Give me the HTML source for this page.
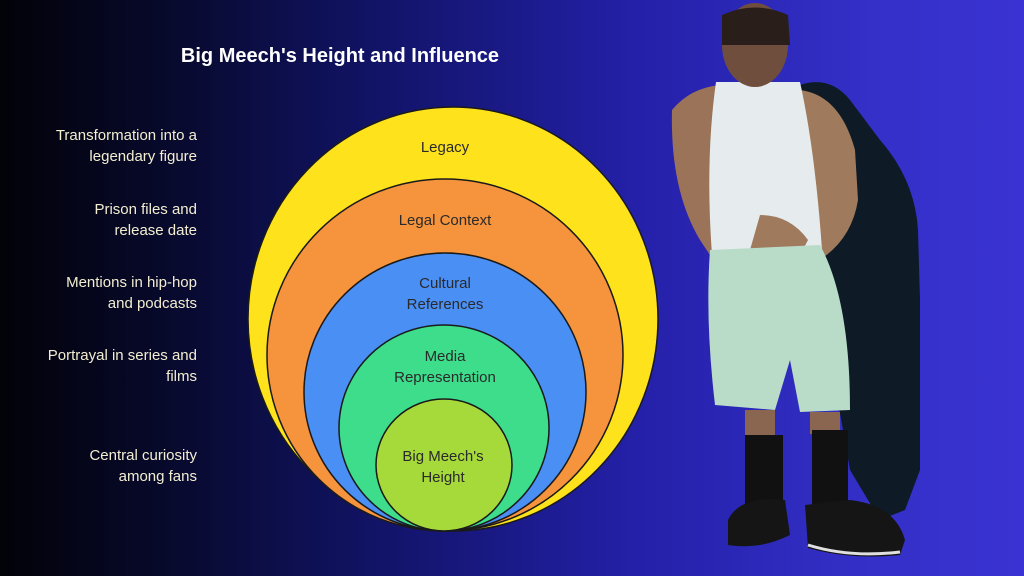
<!DOCTYPE html>
<html><head><style>
html,body{margin:0;padding:0}
body{width:1024px;height:576px;overflow:hidden;position:relative;font-family:"Liberation Sans",sans-serif;
background:linear-gradient(90deg,#020208 0%,#080a30 18%,#12146a 38%,#2420a8 62%,#3430c8 85%,#3a32d2 100%);}
.t{position:absolute;left:0;width:180px;margin-left:17px;text-align:right;color:#f3eed2;font-size:15px;line-height:21px}
.title{position:absolute;left:160px;width:360px;top:45px;text-align:center;color:#fff;font-weight:bold;font-size:20px}
svg{position:absolute;left:0;top:0}
</style></head><body>
<div class="title">Big Meech's Height and Influence</div>
<div class="t" style="top:125px">Transformation into a<br>legendary figure</div>
<div class="t" style="top:199px">Prison files and<br>release date</div>
<div class="t" style="top:272px">Mentions in hip-hop<br>and podcasts</div>
<div class="t" style="top:345px">Portrayal in series and<br>films</div>
<div class="t" style="top:445px">Central curiosity<br>among fans</div>
<svg width="1024" height="576" viewBox="0 0 1024 576">
<g stroke="#1a1a1a" stroke-width="1.5">
<ellipse cx="453" cy="319" rx="205" ry="212" fill="#fde21c"/>
<ellipse cx="445" cy="355" rx="178" ry="176" fill="#f5943c"/>
<ellipse cx="445" cy="392" rx="141" ry="139" fill="#4a8ff4"/>
<ellipse cx="444" cy="428" rx="105" ry="103" fill="#3ddd8c"/>
<ellipse cx="444" cy="465" rx="68" ry="66" fill="#a6da3a"/>
</g>
<g font-family="Liberation Sans,sans-serif" font-size="15" text-anchor="middle" fill="#2a2a2a">
<text x="445" y="152">Legacy</text>
<text x="445" y="225">Legal Context</text>
<text x="445" y="288">Cultural</text>
<text x="445" y="309">References</text>
<text x="445" y="361">Media</text>
<text x="445" y="382">Representation</text>
<text x="443" y="461">Big Meech's</text>
<text x="443" y="482">Height</text>
</g>
<g>
<path d="M800 85 Q830 75 850 100 L880 140 Q915 180 918 230 L920 300 L920 470 L905 510 L880 520 L850 470 L820 300 Z" fill="#0e1a26"/>
<path d="M672 110 Q690 88 720 85 L740 95 L735 200 L740 265 L720 270 L700 240 Q670 190 672 110 Z" fill="#9a7358"/>
<path d="M800 90 Q840 95 855 150 L858 200 Q850 250 800 270 L790 240 Z" fill="#a07a5c"/>
<path d="M716 82 L800 82 Q815 150 822 250 L712 255 Q705 160 716 82 Z" fill="#e6ecee"/>
<ellipse cx="755" cy="45" rx="33" ry="42" fill="#6f4e3e"/>
<path d="M722 15 Q755 0 788 15 L790 45 L722 45 Z" fill="#2a1e1a"/>
<path d="M760 215 Q790 215 808 240 L795 265 Q770 265 750 250 Z" fill="#a07a5c"/>
<path d="M710 250 L820 245 Q850 300 850 410 L800 412 L790 360 L775 410 L715 405 Q705 320 710 250 Z" fill="#b9dcc9"/>
<rect x="745" y="410" width="30" height="30" fill="#8a6650"/>
<rect x="810" y="412" width="30" height="22" fill="#8a6650"/>
<rect x="745" y="435" width="38" height="75" fill="#111"/>
<rect x="812" y="430" width="36" height="80" fill="#111"/>
<path d="M728 520 Q740 495 785 500 L790 535 Q760 550 728 545 Z" fill="#151515"/>
<path d="M805 505 L850 500 Q895 505 905 540 L900 555 Q850 560 808 548 Z" fill="#151515"/>
<path d="M808 545 Q850 558 900 552" stroke="#e0e0e0" stroke-width="3" fill="none"/>
</g>
</svg>
</body></html>
